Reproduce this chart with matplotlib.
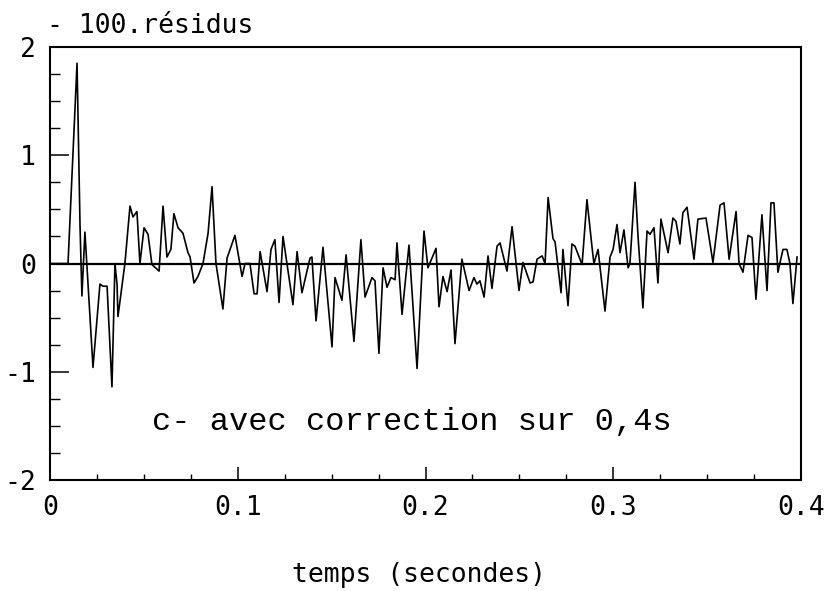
import matplotlib
matplotlib.use("Agg")
import matplotlib.pyplot as plt
from matplotlib.ticker import MultipleLocator, FixedLocator

# Residuals (x100) versus time, correction applied over 0.4 s
temps = [
    0.0000, 0.0096, 0.0144, 0.0160, 0.0170, 0.0186, 0.0229, 0.0266, 0.0282, 0.0304,
    0.0330, 0.0346, 0.0357, 0.0362, 0.0399, 0.0426, 0.0442, 0.0463, 0.0479, 0.0501,
    0.0522, 0.0543, 0.0581, 0.0602, 0.0623, 0.0644, 0.0660, 0.0682, 0.0708, 0.0735,
    0.0746, 0.0767, 0.0788, 0.0815, 0.0842, 0.0863, 0.0884, 0.0921, 0.0943, 0.0985,
    0.1023, 0.1039, 0.1065, 0.1087, 0.1103, 0.1119, 0.1156, 0.1177, 0.1198, 0.1220,
    0.1241, 0.1294, 0.1316, 0.1342, 0.1385, 0.1395, 0.1417, 0.1454, 0.1502, 0.1518,
    0.1555, 0.1577, 0.1619, 0.1656, 0.1678, 0.1715, 0.1731, 0.1752, 0.1774, 0.1795,
    0.1816, 0.1838, 0.1848, 0.1875, 0.1912, 0.1955, 0.1992, 0.2013, 0.2056, 0.2072,
    0.2093, 0.2115, 0.2136, 0.2157, 0.2194, 0.2232, 0.2258, 0.2274, 0.2290, 0.2312,
    0.2333, 0.2354, 0.2381, 0.2397, 0.2434, 0.2461, 0.2498, 0.2519, 0.2557, 0.2573,
    0.2594, 0.2621, 0.2637, 0.2653, 0.2679, 0.2690, 0.2722, 0.2732, 0.2759, 0.2780,
    0.2796, 0.2834, 0.2860, 0.2887, 0.2897, 0.2919, 0.2956, 0.2983, 0.2999, 0.3020,
    0.3036, 0.3057, 0.3079, 0.3089, 0.3116, 0.3132, 0.3158, 0.3180, 0.3196, 0.3217,
    0.3238, 0.3254, 0.3292, 0.3318, 0.3334, 0.3355, 0.3371, 0.3393, 0.3430, 0.3451,
    0.3494, 0.3531, 0.3569, 0.3590, 0.3617, 0.3654, 0.3670, 0.3691, 0.3718, 0.3739,
    0.3760, 0.3792, 0.3819, 0.3840, 0.3856, 0.3877, 0.3904, 0.3925, 0.3941, 0.3957,
    0.3979,
]
residus = [
    0.00, 0.00, 1.85, 0.34, -0.30, 0.29, -0.96, -0.19, -0.21, -0.21,
    -1.14, 0.00, -0.19, -0.49, 0.00, 0.53, 0.43, 0.48, 0.00, 0.33,
    0.27, -0.01, -0.07, 0.53, 0.06, 0.13, 0.46, 0.33, 0.28, 0.10,
    0.06, -0.18, -0.12, 0.00, 0.28, 0.71, 0.00, -0.42, 0.05, 0.26,
    -0.12, 0.00, 0.00, -0.28, -0.28, 0.11, -0.26, 0.13, 0.22, -0.36,
    0.25, -0.38, 0.11, -0.27, 0.05, 0.06, -0.53, 0.15, -0.77, -0.13,
    -0.34, 0.08, -0.72, 0.22, -0.31, -0.13, -0.16, -0.83, -0.04, -0.22,
    -0.13, -0.15, 0.19, -0.47, 0.17, -0.97, 0.30, -0.04, 0.14, -0.40,
    -0.12, -0.26, -0.06, -0.74, 0.04, -0.25, -0.13, -0.19, -0.16, -0.31,
    0.07, -0.23, 0.16, 0.19, -0.07, 0.34, -0.25, 0.01, -0.18, -0.17,
    0.04, 0.07, 0.00, 0.61, 0.23, 0.20, -0.27, 0.13, -0.39, 0.18,
    0.16, -0.01, 0.59, 0.15, 0.00, 0.13, -0.44, 0.06, 0.13, 0.36,
    0.10, 0.31, -0.04, 0.00, 0.75, 0.25, -0.41, 0.30, 0.27, 0.33,
    -0.18, 0.41, 0.10, 0.42, 0.39, 0.18, 0.47, 0.52, 0.04, 0.41,
    0.42, 0.01, 0.54, 0.56, 0.04, 0.48, 0.00, -0.08, 0.26, 0.24,
    -0.33, 0.45, -0.25, 0.56, 0.56, -0.08, 0.13, 0.13, 0.00, -0.37,
    0.06,
]

x_ticks = [0.0, 0.1, 0.2, 0.3, 0.4]
x_tick_labels = ["0", "0.1", "0.2", "0.3", "0.4"]
y_ticks = [-2, -1, 0, 1, 2]
y_tick_labels = ["-2", "-1", "0", "1", "2"]

W, H = 829, 591
fig = plt.figure(figsize=(W / 100, H / 100), dpi=100)
ax = fig.add_axes([50 / W, 1 - 480 / H, 751 / W, 433 / H])

font = "DejaVu Sans Mono"
fs = 19

ax.plot(temps, residus, color="black", lw=1.2)
ax.axhline(0, color="black", lw=1.6)

ax.set_xlim(0, 0.4)
ax.set_ylim(-2, 2)

ax.xaxis.set_major_locator(FixedLocator(x_ticks))
ax.set_xticklabels(x_tick_labels, fontfamily=font, fontsize=fs)
ax.xaxis.set_minor_locator(MultipleLocator(0.025))
ax.yaxis.set_major_locator(FixedLocator(y_ticks))
ax.set_yticklabels(y_tick_labels, fontfamily=font, fontsize=fs)
ax.yaxis.set_minor_locator(MultipleLocator(0.25))

ax.tick_params(axis="x", which="major", direction="in", length=9.5, width=1.1, pad=11)
ax.tick_params(axis="x", which="minor", direction="in", length=4.5, width=1.0)
ax.tick_params(axis="y", which="major", direction="in", length=13.5, width=1.1, pad=10)
ax.tick_params(axis="y", which="minor", direction="in", length=7, width=1.0)
ax.tick_params(top=False, right=False, which="both")

for s in ax.spines.values():
    s.set_linewidth(1.5)

ax.set_xlabel("temps (secondes)", fontfamily=font, fontsize=fs)
ax.xaxis.set_label_coords((419 - 50) / 751, (480 - 575) / 433)
ax.xaxis.label.set_va("center")

fig.text(47 / W, 1 - 26 / H, "- 100.résidus", fontfamily=font, fontsize=fs,
         ha="left", va="center")

ax.text((152 - 50) / 751, (480 - 430) / 433, "c- avec correction sur 0,4s",
        transform=ax.transAxes, fontfamily="Liberation Mono", fontsize=23,
        ha="left", va="baseline")

fig.savefig("out.png", dpi=100)
